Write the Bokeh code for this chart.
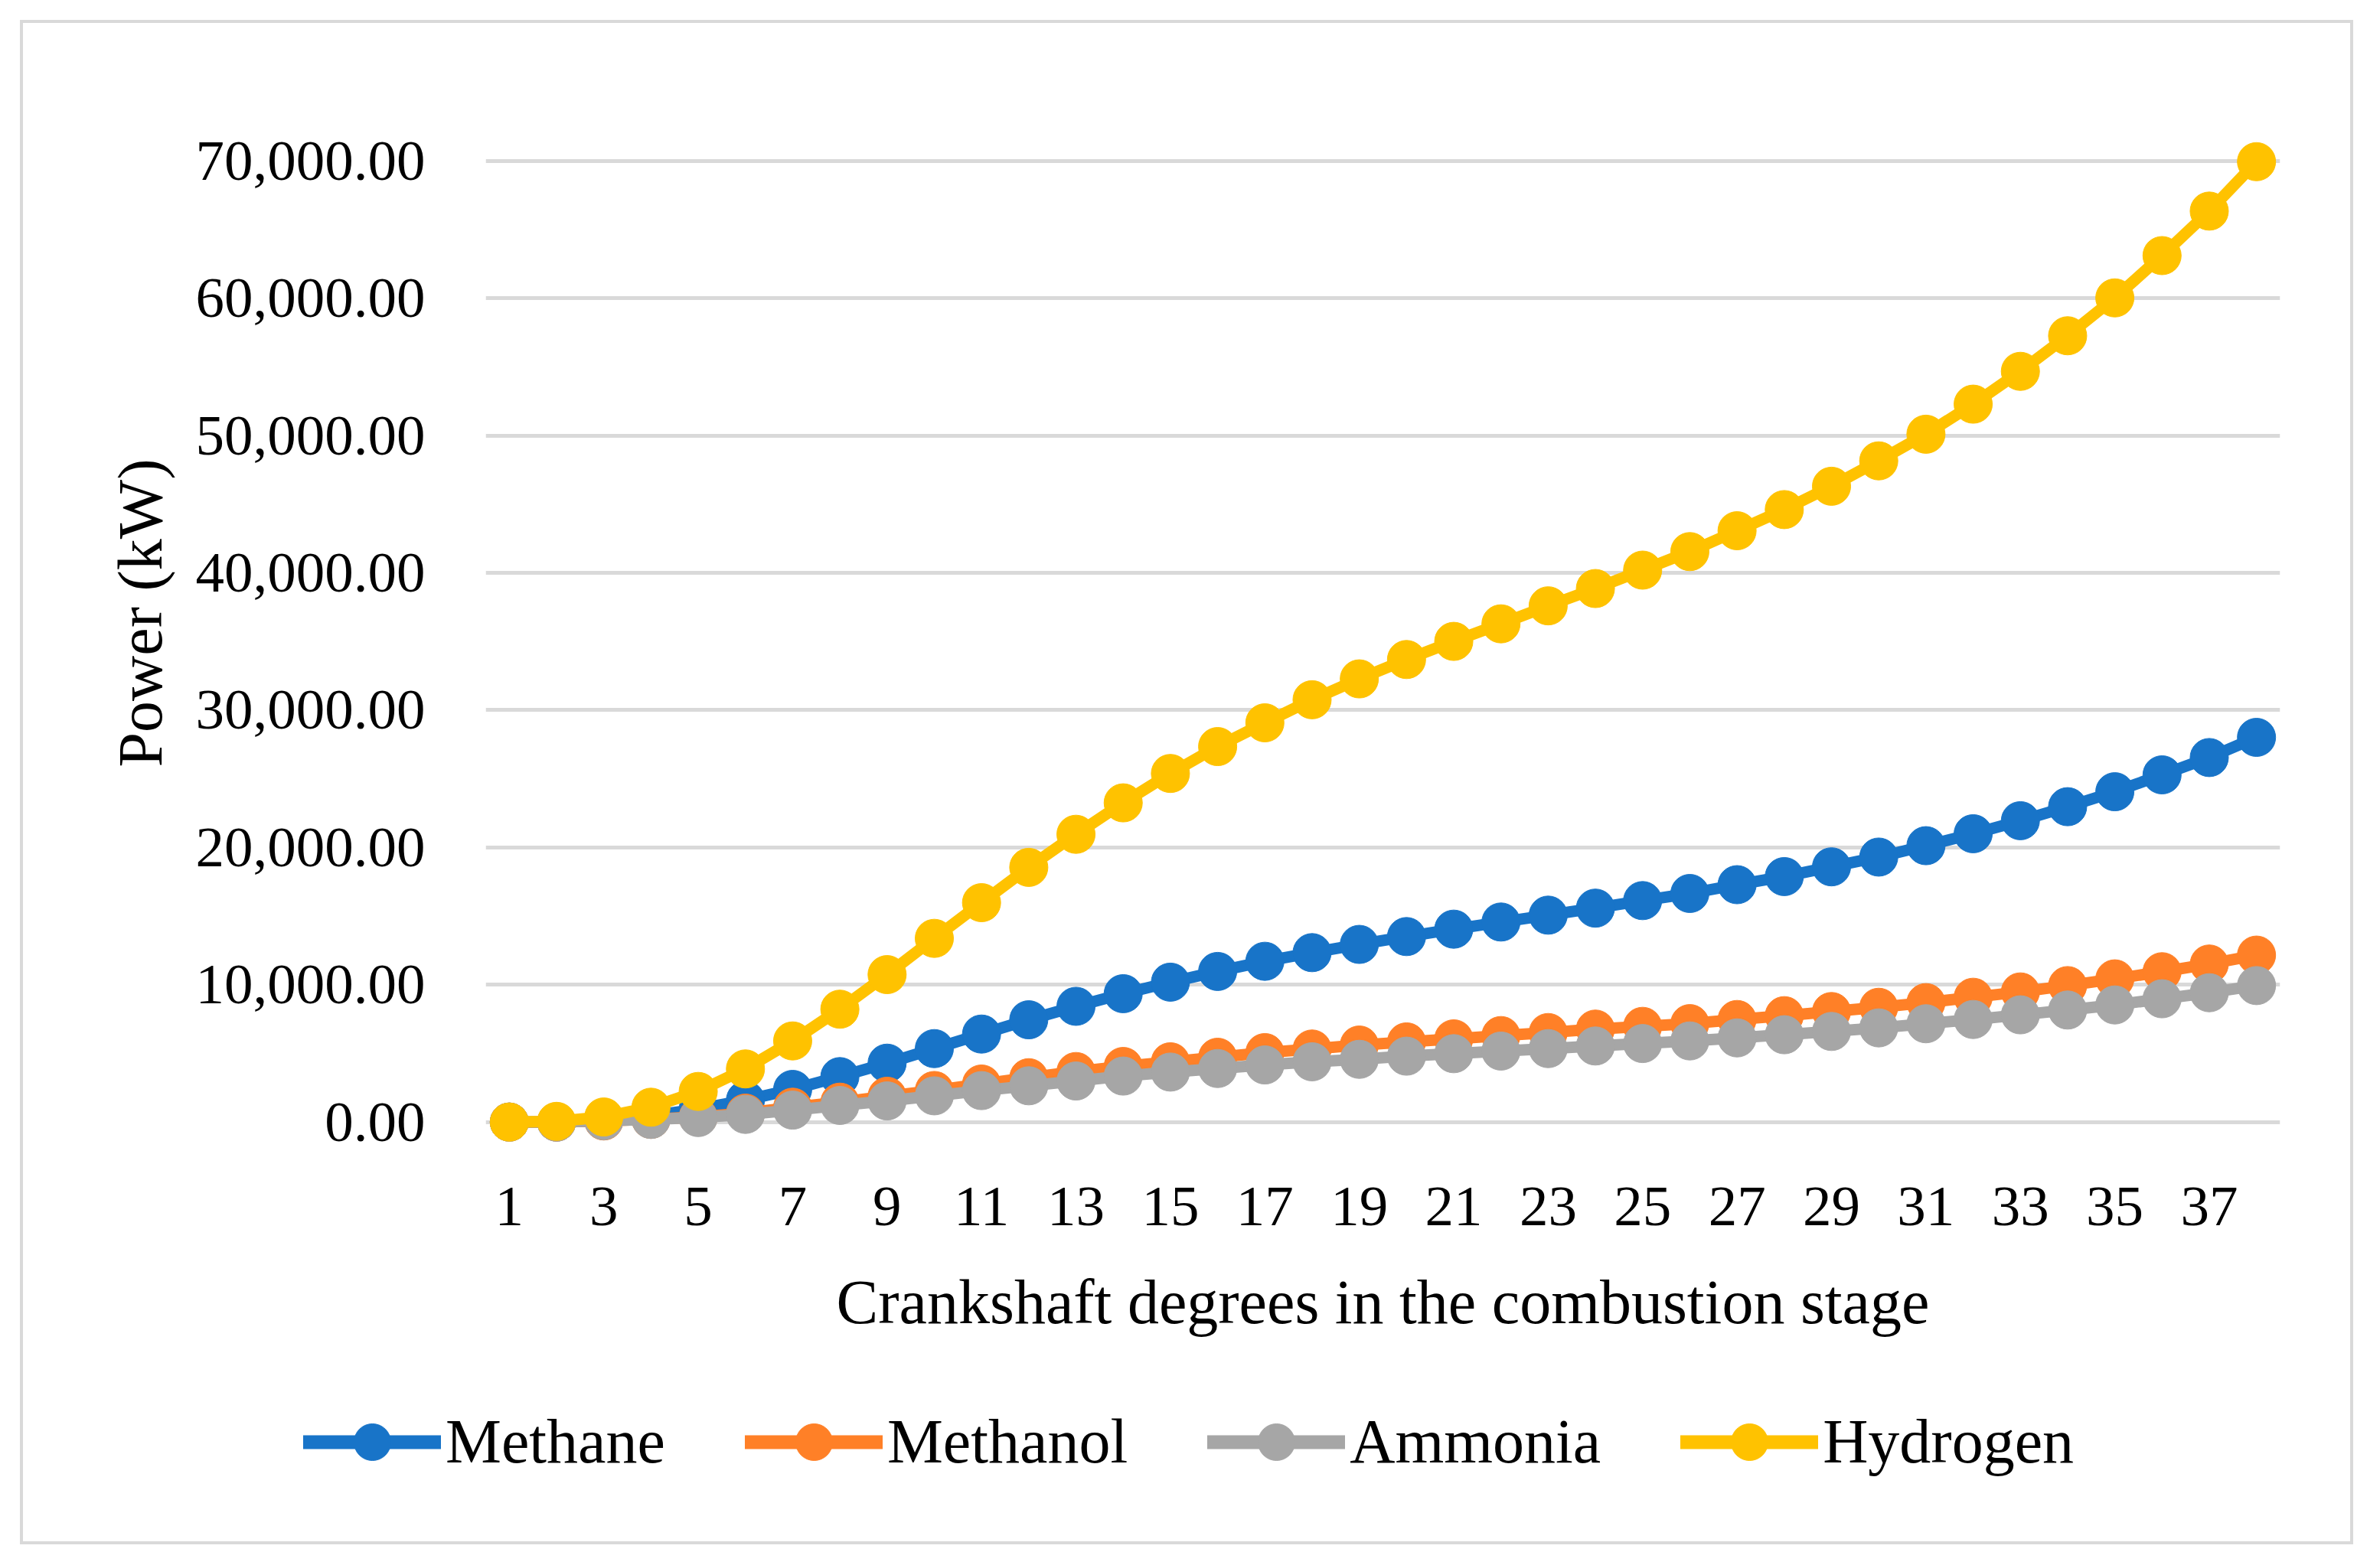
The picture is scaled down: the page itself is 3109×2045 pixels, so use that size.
from bokeh.plotting import figure
from bokeh.layouts import column
from bokeh.models import (FixedTicker, NumeralTickFormatter, Range1d, Legend,
                          LegendItem, Title)
from bokeh.embed import file_html
from bokeh.resources import INLINE

# ---------------- data ----------------
crank_degrees = [1, 2, 3, 4, 5, 6, 7, 8, 9, 10, 11, 12, 13, 14, 15, 16, 17, 18, 19,
                 20, 21, 22, 23, 24, 25, 26, 27, 28, 29, 30, 31, 32, 33, 34, 35, 36, 37, 38]

methane = [0, 0, 120, 450, 950, 1600, 2380, 3310, 4290, 5350, 6410, 7450, 8430,
           9350, 10190, 10970, 11710, 12340, 12940, 13510, 14050, 14570, 15070,
           15580, 16130, 16650, 17290, 17880, 18590, 19300, 20130, 21000, 21950,
           22970, 24060, 25290, 26550, 28020]

methanol = [0, 0, 80, 200, 380, 650, 1080, 1450, 1880, 2300, 2770, 3230, 3680,
            4050, 4390, 4720, 5060, 5320, 5610, 5840, 6060, 6300, 6520, 6770,
            6970, 7170, 7470, 7750, 8050, 8360, 8700, 9090, 9480, 9940, 10430,
            10950, 11510, 12160]

ammonia = [0, 0, 100, 190, 330, 560, 870, 1210, 1540, 1910, 2290, 2640, 2990,
           3350, 3640, 3900, 4160, 4390, 4570, 4800, 4980, 5170, 5350, 5540,
           5720, 5910, 6130, 6360, 6600, 6860, 7160, 7470, 7810, 8160, 8530,
           8980, 9420, 9940]

hydrogen = [0, 50, 370, 1080, 2230, 3870, 5910, 8220, 10740, 13380, 15980,
            18550, 20960, 23250, 25390, 27350, 29080, 30760, 32280, 33690, 35010,
            36290, 37600, 38860, 40200, 41550, 43070, 44610, 46310, 48160, 50100,
            52290, 54680, 57270, 60030, 63110, 66350, 69950]

series_names = ["Methane", "Methanol", "Ammonia", "Hydrogen"]
series_values = [methane, methanol, ammonia, hydrogen]
series_colors = ["#1874C8", "#FF8027", "#A6A6A6", "#FFC200"]

y_ticks = [0, 10000, 20000, 30000, 40000, 50000, 60000, 70000]
x_ticks = [1, 3, 5, 7, 9, 11, 13, 15, 17, 19, 21, 23, 25, 27, 29, 31, 33, 35, 37]

x_title = "Crankshaft degrees in the combustion stage"
y_title = "Power (kW)"

# ---------------- main chart ----------------
FONT = "Liberation Serif"
TICK_SIZE = "75px"
TEXT_SIZE = "82px"
W = 3100

p = figure(width=W, height=1790,
           output_backend="svg", toolbar_location=None,
           x_range=Range1d(0.5, 38.5), y_range=Range1d(-1800, 72000),
           min_border_left=634, min_border_right=122,
           min_border_top=174, min_border_bottom=292)
p.outline_line_color = None
p.background_fill_color = "white"
p.border_fill_color = None

# grid
p.xgrid.visible = False
p.ygrid.ticker = FixedTicker(ticks=y_ticks)
p.ygrid.grid_line_color = "#D9D9D9"
p.ygrid.grid_line_width = 5

# y axis
p.yaxis.ticker = FixedTicker(ticks=y_ticks)
p.yaxis.formatter = NumeralTickFormatter(format="0,0.00")
p.yaxis.axis_line_color = None
p.yaxis.major_tick_line_color = None
p.yaxis.minor_tick_line_color = None
p.yaxis.major_tick_out = 0
p.yaxis.major_label_standoff = 79
p.yaxis.major_label_text_font = FONT
p.yaxis.major_label_text_font_size = TICK_SIZE
p.yaxis.major_label_text_color = "black"

# x axis
p.xaxis.ticker = FixedTicker(ticks=x_ticks)
p.xaxis.axis_line_color = None
p.xaxis.major_tick_line_color = None
p.xaxis.minor_tick_line_color = None
p.xaxis.major_tick_out = 0
p.xaxis.major_label_standoff = 53
p.xaxis.major_label_text_font = FONT
p.xaxis.major_label_text_font_size = TICK_SIZE
p.xaxis.major_label_text_color = "black"
p.xaxis.axis_label = x_title
p.xaxis.axis_label_text_font = FONT
p.xaxis.axis_label_text_font_size = TEXT_SIZE
p.xaxis.axis_label_text_font_style = "normal"
p.xaxis.axis_label_text_color = "black"
p.xaxis.axis_label_standoff = 52

# y title (left side panel, shifted up like the original)
p.add_layout(Title(text=y_title, align="right", offset=425, standoff=45,
                   vertical_align="middle", text_font=FONT,
                   text_font_size=TEXT_SIZE, text_font_style="normal",
                   text_color="black"), "left")

for name, vals, col in zip(series_names, series_values, series_colors):
    p.line(crank_degrees, vals, line_color=col, line_width=15,
           line_join="round")
    p.scatter(crank_degrees, vals, size=50, fill_color=col,
              line_color=col, line_width=1)

# ---------------- legend strip (same series, drawn off-view) ----------------
pl = figure(width=W, height=254, output_backend="svg", toolbar_location=None,
            x_range=Range1d(1000, 1001), y_range=Range1d(0, 1),
            x_axis_type=None, y_axis_type=None,
            min_border_left=0, min_border_right=0,
            min_border_top=0, min_border_bottom=0)
pl.outline_line_color = None
pl.background_fill_color = None
pl.border_fill_color = None

leg_x = 396
try:
    p.frame_align = False
    pl.frame_align = False
except Exception:
    leg_x = 0

items = []
for name, vals, col in zip(series_names, series_values, series_colors):
    r_line = pl.line(crank_degrees, vals, line_color=col, line_width=18,
                     line_cap="round")
    r_pts = pl.scatter(crank_degrees, vals, size=48, fill_color=col,
                       line_color=col, line_width=1)
    items.append(LegendItem(label=name, renderers=[r_line, r_pts]))

legend = Legend(items=items, orientation="horizontal",
                location=(leg_x, 100),
                glyph_width=180, glyph_height=120, label_standoff=6,
                spacing=104, padding=0, margin=0,
                border_line_color=None, background_fill_alpha=0,
                label_text_font=FONT, label_text_font_size=TEXT_SIZE,
                label_text_color="black")
pl.add_layout(legend)

page = column(p, pl, spacing=0,
              styles={"outline": "4px solid #D9D9D9", "outline-offset": "-30px"})

open("out.html", "w").write(file_html(page, INLINE))
